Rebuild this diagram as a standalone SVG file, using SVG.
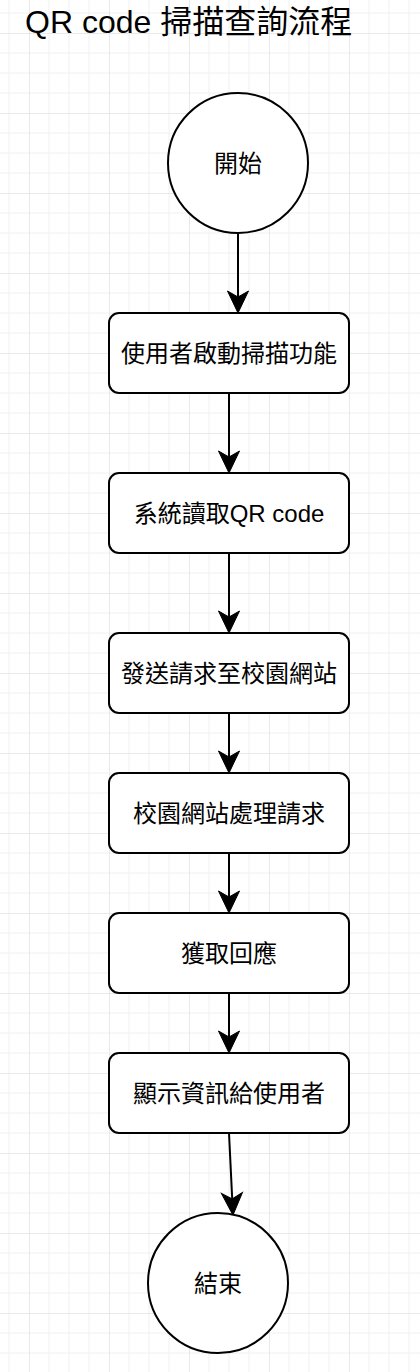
<svg xmlns="http://www.w3.org/2000/svg" width="420" height="1372" viewBox="0 0 420 1372">
  <style>
    .shape { fill: #ffffff; stroke: #000000; stroke-width: 2; }
    .label { font-family: "Liberation Sans", "Noto Sans CJK TC", sans-serif; font-size: 24px; fill: #000000; text-anchor: middle; dominant-baseline: central; }
    .title { font-family: "Liberation Sans", "Noto Sans CJK TC", sans-serif; font-size: 32px; fill: #000000; }
    .edge { fill: none; stroke: #000000; stroke-width: 2; }
  </style>
  <defs>
    <pattern id="grid" patternUnits="userSpaceOnUse" x="29" y="33" width="80" height="80">
      <path d="M20,0 V80 M40,0 V80 M60,0 V80 M0,20 H80 M0,40 H80 M0,60 H80" stroke="#f0f0f0" stroke-width="1" fill="none"/>
      <path d="M0,0 V80 M0,0 H80" stroke="#e2e2e2" stroke-width="1.5" fill="none"/>
    </pattern>
    <marker id="arrow" markerUnits="userSpaceOnUse" viewBox="-24 -12 26 24" markerWidth="26" markerHeight="24" refX="-10" refY="0" orient="auto">
      <path d="M0,0 L-22,-10.5 L-16,0 L-22,10.5 Z" fill="#000000" stroke="#000000" stroke-width="1"/>
    </marker>
  </defs>
  <rect x="0" y="0" width="420" height="1372" fill="#ffffff"/>
  <rect x="0" y="0" width="420" height="1372" fill="url(#grid)"/>

  <text class="title" x="25" y="33">QR code 掃描查詢流程</text>

  <g id="connectors">
    <line class="edge" x1="238" y1="233" x2="238" y2="303" marker-end="url(#arrow)"/>
    <line class="edge" x1="229" y1="393" x2="229" y2="463" marker-end="url(#arrow)"/>
    <line class="edge" x1="229" y1="553" x2="229" y2="623" marker-end="url(#arrow)"/>
    <line class="edge" x1="229" y1="713" x2="229" y2="763" marker-end="url(#arrow)"/>
    <line class="edge" x1="229" y1="853" x2="229" y2="903" marker-end="url(#arrow)"/>
    <line class="edge" x1="229" y1="993" x2="229" y2="1043" marker-end="url(#arrow)"/>
    <line class="edge" x1="229" y1="1133" x2="232.5" y2="1205" marker-end="url(#arrow)"/>
  </g>

  <g id="start">
    <circle class="shape" cx="238" cy="163" r="70"/>
    <text class="label" x="238" y="163">開始</text>
  </g>
  <g id="step1">
    <rect class="shape" x="109" y="313" width="240" height="80" rx="10"/>
    <text class="label" x="229" y="353">使用者啟動掃描功能</text>
  </g>
  <g id="step2">
    <rect class="shape" x="109" y="473" width="240" height="80" rx="10"/>
    <text class="label" x="229" y="513">系統讀取QR code</text>
  </g>
  <g id="step3">
    <rect class="shape" x="109" y="633" width="240" height="80" rx="10"/>
    <text class="label" x="229" y="673">發送請求至校園網站</text>
  </g>
  <g id="step4">
    <rect class="shape" x="109" y="773" width="240" height="80" rx="10"/>
    <text class="label" x="229" y="813">校園網站處理請求</text>
  </g>
  <g id="step5">
    <rect class="shape" x="109" y="913" width="240" height="80" rx="10"/>
    <text class="label" x="229" y="953">獲取回應</text>
  </g>
  <g id="step6">
    <rect class="shape" x="109" y="1053" width="240" height="80" rx="10"/>
    <text class="label" x="229" y="1093">顯示資訊給使用者</text>
  </g>
  <g id="end">
    <circle class="shape" cx="218" cy="1283" r="70"/>
    <text class="label" x="218" y="1283">結束</text>
  </g>
</svg>
